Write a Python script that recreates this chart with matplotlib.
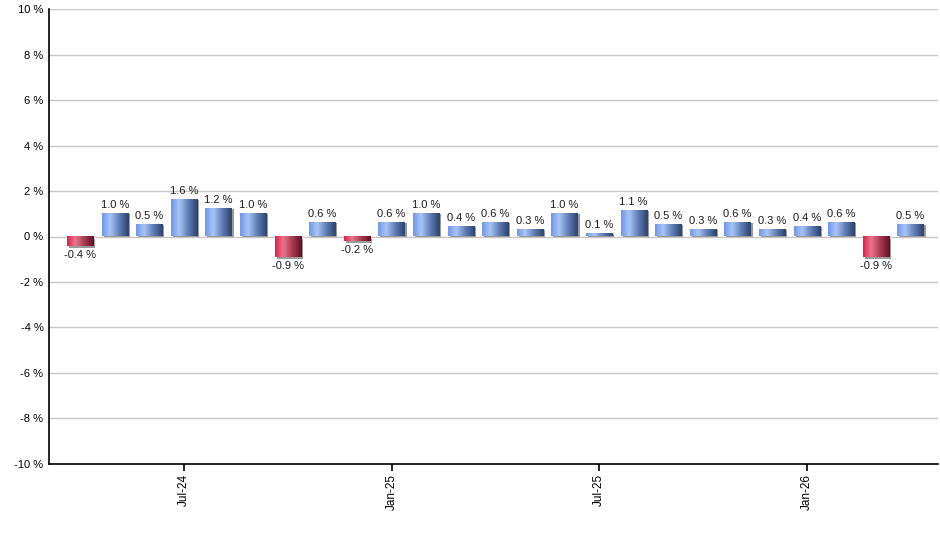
import numpy as np
import matplotlib
matplotlib.use("Agg")
import matplotlib.pyplot as plt
import matplotlib.transforms as mtransforms
from matplotlib.colors import LinearSegmentedColormap
from matplotlib.patches import Rectangle

plt.rcParams['font.family'] = ['Liberation Sans', 'DejaVu Sans']

# Data: monthly change, Apr-24 .. Apr-26
months = ['Apr-24', 'May-24', 'Jun-24', 'Jul-24', 'Aug-24', 'Sep-24', 'Oct-24',
          'Nov-24', 'Dec-24', 'Jan-25', 'Feb-25', 'Mar-25', 'Apr-25', 'May-25',
          'Jun-25', 'Jul-25', 'Aug-25', 'Sep-25', 'Oct-25', 'Nov-25', 'Dec-25',
          'Jan-26', 'Feb-26', 'Mar-26', 'Apr-26']
values = [-0.4, 1.0, 0.5, 1.6, 1.2, 1.0, -0.9, 0.6, -0.2, 0.6, 1.0, 0.4, 0.6,
          0.3, 1.0, 0.1, 1.1, 0.5, 0.3, 0.6, 0.3, 0.4, 0.6, -0.9, 0.5]
shown_ticks = ['Jul-24', 'Jan-25', 'Jul-25', 'Jan-26']
yticks = [-10, -8, -6, -4, -2, 0, 2, 4, 6, 8, 10]

blue_cmap = LinearSegmentedColormap.from_list(
    'blue', [(0, '#6d96e6'), (0.3, '#a9c5f7'), (0.65, '#5e7cb4'), (1, '#2c416b')])
red_cmap = LinearSegmentedColormap.from_list(
    'red', [(0, '#dc1f45'), (0.3, '#e8768e'), (0.65, '#a83a52'), (1, '#5e0f20')])

fig = plt.figure(figsize=(9.4, 5.5), dpi=100)
ax = fig.add_axes([0.0521, 0.1564, 0.946, 0.8272])

x = np.arange(len(values))
width = 0.76
grad = np.linspace(0, 1, 256).reshape(1, -1)
shadow_pos = mtransforms.offset_copy(ax.transData, fig=fig, x=2, y=0, units='dots')
shadow_neg = mtransforms.offset_copy(ax.transData, fig=fig, x=2, y=-2, units='dots')

for xi, v in zip(x, values):
    x0 = xi - width / 2
    ax.add_patch(Rectangle((x0, min(0, v)), width, abs(v), facecolor='#9a9a9a',
                           edgecolor='none', transform=shadow_pos if v >= 0 else shadow_neg,
                           zorder=2))
    cmap = blue_cmap if v >= 0 else red_cmap
    ax.imshow(grad, cmap=cmap, aspect='auto', extent=(x0, x0 + width, min(0, v), max(0, v)),
              zorder=3, interpolation='bicubic')
    if v >= 0:
        ax.annotate(f'{v:.1f} %', (xi, v), xytext=(0, 3), textcoords='offset points',
                    ha='center', va='bottom', fontsize=8, color='#1a1a1a', zorder=4)
    else:
        ax.annotate(f'{v:.1f} %', (xi, v), xytext=(0, -3), textcoords='offset points',
                    ha='center', va='top', fontsize=8, color='#1a1a1a', zorder=4)

ax.set_xlim(-0.9, 24.8)
ax.set_ylim(-10, 10)
ax.set_yticks(yticks)
ax.set_yticklabels([f'{t} %' for t in yticks], fontsize=8)
ax.tick_params(axis='y', length=0, pad=4)

tick_pos = [months.index(m) for m in shown_ticks]
ax.set_xticks(tick_pos)
ax.set_xticklabels(shown_ticks, rotation=90, fontsize=8.5)
ax.tick_params(axis='x', length=5, width=1.2, direction='out', pad=2)

ax.grid(axis='y', color='#c8c8c8', linewidth=1, zorder=0)
ax.set_axisbelow(True)
for s in ['top', 'right']:
    ax.spines[s].set_visible(False)
ax.spines['left'].set_linewidth(1.2)
ax.spines['bottom'].set_linewidth(1.2)

fig.savefig('out.png', dpi=100)
